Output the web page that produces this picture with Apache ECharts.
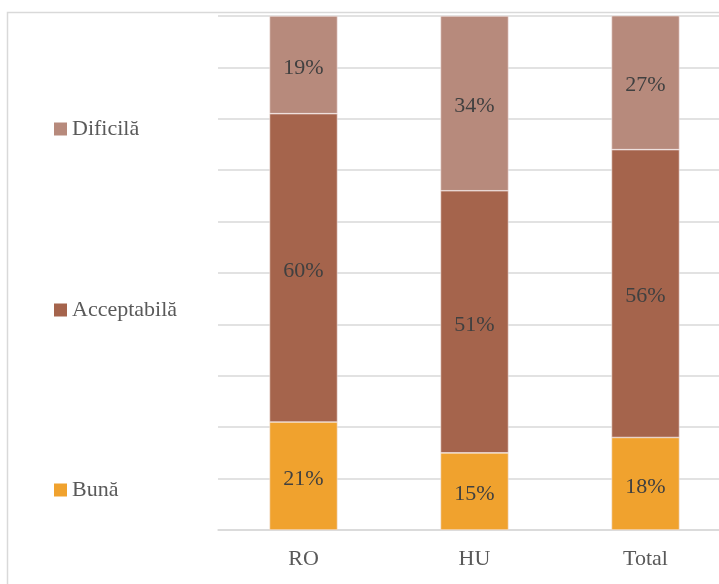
<!DOCTYPE html>
<html>
<head>
<meta charset="utf-8">
<script src="https://cdn.jsdelivr.net/npm/echarts@6/dist/echarts.min.js"></script>
<style>
  html, body { margin: 0; padding: 0; background: #fff; }
  #chart { width: 719px; height: 584px; }
</style>
</head>
<body>
<div id="chart"></div>
<script>
// Regions shown on the category axis
const categories = ['RO', 'HU', 'Total'];

// Share of answers per rating (percent)
const buna = [21, 15, 18];
const acceptabila = [60, 51, 56];
const dificila = [19, 34, 27];

const seriesNames = ['Bună', 'Acceptabilă', 'Dificilă'];
const seriesColors = ['#F0A22E', '#A5644C', '#B78A7C'];

const FONT = '"Liberation Serif", "DejaVu Serif", serif';
const FONT_SIZE = 22;

const chart = echarts.init(document.getElementById('chart'));

function barSeries(name, values, color) {
  return {
    name: name,
    type: 'bar',
    stack: 'total',
    barWidth: 68,
    data: values,
    itemStyle: { color: color, borderColor: '#f4e6e4', borderWidth: 0.6 },
    label: {
      show: true,
      position: 'inside',
      offset: [0, 3],
      formatter: p => p.value + '%',
      color: '#404040',
      fontFamily: FONT,
      fontSize: FONT_SIZE
    }
  };
}

function legendFor(name, top) {
  return {
    data: [name],
    left: 54,
    top: top,
    padding: 0,
    orient: 'vertical',
    icon: 'rect',
    itemWidth: 13,
    itemHeight: 13,
    itemGap: 0,
    itemStyle: { borderWidth: 0 },
    textStyle: { color: '#595959', fontFamily: FONT, fontSize: FONT_SIZE }
  };
}

chart.setOption({
  animation: false,
  backgroundColor: '#fff',
  graphic: [{
    type: 'rect',
    shape: { x: 7.5, y: 12.5, width: 900, height: 800 },
    style: { fill: 'none', stroke: '#d9d9d9', lineWidth: 1.5 },
    silent: true
  }],
  legend: [
    legendFor('Dificilă', 118),
    legendFor('Acceptabilă', 299),
    legendFor('Bună', 479)
  ],
  grid: {
    left: 218, top: 16, width: 513, height: 514,
    containLabel: false,
    outerBoundsMode: 'none'
  },
  xAxis: {
    type: 'category',
    data: categories,
    axisLine: { lineStyle: { color: '#d9d9d9', width: 1.5 } },
    axisTick: { show: false },
    axisLabel: { color: '#595959', fontFamily: FONT, fontSize: FONT_SIZE, margin: 18 }
  },
  yAxis: {
    type: 'value',
    min: 0,
    max: 100,
    interval: 10,
    axisLabel: { show: false },
    axisLine: { show: false },
    axisTick: { show: false },
    splitLine: { lineStyle: { color: '#d9d9d9', width: 1.5 } }
  },
  series: [
    barSeries(seriesNames[0], buna, seriesColors[0]),
    barSeries(seriesNames[1], acceptabila, seriesColors[1]),
    barSeries(seriesNames[2], dificila, seriesColors[2])
  ]
});
</script>
</body>
</html>
